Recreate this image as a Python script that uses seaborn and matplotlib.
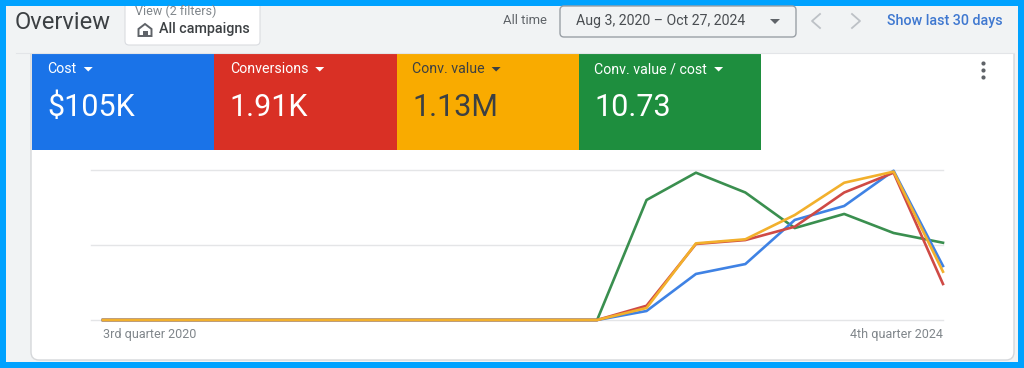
import pandas as pd
import matplotlib.pyplot as plt
import seaborn as sns
from matplotlib.patches import FancyBboxPatch, Rectangle, Polygon

# quarters from 3rd quarter 2020 to 4th quarter 2024
quarters = ['Q3 2020', 'Q4 2020', 'Q1 2021', 'Q2 2021', 'Q3 2021', 'Q4 2021', 'Q1 2022', 'Q2 2022', 'Q3 2022',
            'Q4 2022', 'Q1 2023', 'Q2 2023', 'Q3 2023', 'Q4 2023', 'Q1 2024', 'Q2 2024', 'Q3 2024', 'Q4 2024']

# values, % of the chart height
cost = [0, 0, 0, 0, 0, 0, 0, 0, 0, 0, 0, 6, 30.7, 37.3, 66.7, 76, 99.5, 36]
conversions = [0, 0, 0, 0, 0, 0, 0, 0, 0, 0, 0, 9.5, 50.7, 53.3, 62.2, 85, 98.2, 24]
conv_value = [0, 0, 0, 0, 0, 0, 0, 0, 0, 0, 0, 8, 51.1, 53.8, 70, 91.5, 98.9, 32.2]
value_per_cost = [0, 0, 0, 0, 0, 0, 0, 0, 0, 0, 0, 80, 98.2, 85, 61.3, 70.7, 58, 51.5]

tile_labels = ['Cost', 'Conversions', 'Conv. value', 'Conv. value / cost']
tile_values = ['$105K', '1.91K', '1.13M', '10.73']
tile_colors = ['#1A73E8', '#D93025', '#F9AB00', '#1E8E3E']
tile_text = ['white', 'white', '#3C4043', 'white']

# drawing order of the lines, last one on top
line_order = ['Conv. value / cost', 'Cost', 'Conversions', 'Conv. value']
line_colors = ['#3A8F4F', '#3F82E4', '#CF4A45', '#F2B02C']

rows = []
for name, vals in zip(tile_labels, [cost, conversions, conv_value, value_per_cost]):
    for q, v in zip(quarters, vals):
        rows.append({'quarter': q, 'metric': name, 'value': v})
df = pd.DataFrame(rows)

plt.rcParams['font.family'] = ['Roboto', 'DejaVu Sans']

f = plt.figure(figsize=(10.24, 3.68), dpi=100, facecolor='#00A2FF')

# page furniture, drawn in pixel coordinates
bg = f.add_axes([0, 0, 1, 1])
bg.set_xlim(0, 1024)
bg.set_ylim(368, 0)
bg.axis('off')

bg.add_patch(Rectangle((6, 6), 1012, 356, facecolor='#F1F3F4', edgecolor='none'))
bg.add_patch(FancyBboxPatch((31, 40), 983, 320, boxstyle='round,pad=0,rounding_size=8', facecolor='white',
                            edgecolor='#D5D7DA', linewidth=1))
bg.add_patch(Rectangle((16, 6), 1002, 47, facecolor='#F1F3F4', edgecolor='none'))
bg.plot([16, 1014], [53, 53], color='#E3E5E8', lw=0.8)

bg.text(15, 22.5, 'Overview', fontsize=17, color='#3C4043', va='center')

# filter chip
bg.add_patch(FancyBboxPatch((125, -4), 135, 49, boxstyle='round,pad=0,rounding_size=4', facecolor='white',
                            edgecolor='#DADCE0', linewidth=0.8))
bg.add_patch(Rectangle((120, 0), 145, 6, facecolor='#00A2FF', edgecolor='none', zorder=3))
bg.text(135, 11.5, 'View (2 filters)', fontsize=9, color='#80868B', va='center')
bg.text(159, 29.5, 'All campaigns', fontsize=10.3, color='#3C4043', va='center', fontweight='medium')
bg.add_patch(Polygon([(138.5, 29), (145, 24), (151.5, 29), (151.5, 36), (138.5, 36)], closed=True, facecolor='none',
                     edgecolor='#5F6368', lw=1.4))
bg.add_patch(Rectangle((142.5, 30.5), 5, 5.5, facecolor='#5F6368', edgecolor='none'))

# date range
bg.text(503, 21, 'All time', fontsize=9.4, color='#5F6368', va='center')
bg.add_patch(FancyBboxPatch((560, 6), 236, 31, boxstyle='round,pad=0,rounding_size=4', facecolor='#F1F3F4',
                            edgecolor='#9AA0A6', linewidth=1))
bg.text(576, 21, 'Aug 3, 2020 \u2013 Oct 27, 2024', fontsize=10.2, color='#4A4E52', va='center')
bg.add_patch(Polygon([(770, 19), (780, 19), (775, 24)], closed=True, facecolor='#5F6368', edgecolor='none'))
bg.plot([820, 812, 820], [14, 21, 28], color='#BDC1C6', lw=1.3)
bg.plot([852, 860, 852], [14, 21, 28], color='#BDC1C6', lw=1.3)
bg.text(887, 21, 'Show last 30 days', fontsize=10.3, color='#3F78D0', va='center', fontweight='medium')

# metric tiles
tile_w = 182.25
for i, (lab, val, col, tc) in enumerate(zip(tile_labels, tile_values, tile_colors, tile_text)):
    x0 = 32 + i * tile_w
    bg.add_patch(Rectangle((x0, 54), tile_w, 96, facecolor=col, edgecolor='none'))
    t = bg.text(x0 + 15.5, 69, lab, fontsize=10.2, color=tc, va='center')
    f.canvas.draw()
    ext = t.get_window_extent()
    ax_end = bg.transData.inverted().transform((ext.x1, ext.y0))[0]
    bg.add_patch(Polygon([(ax_end + 7, 67), (ax_end + 16, 67), (ax_end + 11.5, 71.5)], closed=True, facecolor=tc,
                         edgecolor='none'))
    bg.text(x0 + 15.5, 107.5, val, fontsize=22, color=tc, va='center')

# kebab menu
bg.scatter([983, 983, 983], [63, 70, 77], s=9, color='#5F6368', linewidths=0)

# chart, baseline at y=320 and top gridline at y=170
a = f.add_axes([91 / 1024, (368 - 320) / 368, (943 - 91) / 1024, 150 / 368])
a.patch.set_alpha(0)
sns.lineplot(data=df, x='quarter', y='value', hue='metric', hue_order=line_order, palette=line_colors,
             sort=False, linewidth=1.9, legend=False, ax=a, clip_on=False)
a.set_xlim(-12 / 49.41, 17)
a.set_ylim(0, 100)
a.set_yticks([0, 50, 100])
a.set_xticks([])
a.set_xlabel('')
a.set_ylabel('')
a.set_yticklabels([])
a.tick_params(length=0)
a.grid(axis='y', color='#E4E5E7', linewidth=1)
for g in a.get_ygridlines():
    g.set_clip_on(False)
a.set_axisbelow(True)
sns.despine(ax=a, left=True, bottom=True)

a.text(0, -9.5, '3rd quarter 2020', fontsize=9, color='#80868B', va='center', ha='left')
a.text(17, -9.5, '4th quarter 2024', fontsize=9, color='#80868B', va='center', ha='right')

plt.savefig('out.png', dpi=100, facecolor=f.get_facecolor())
